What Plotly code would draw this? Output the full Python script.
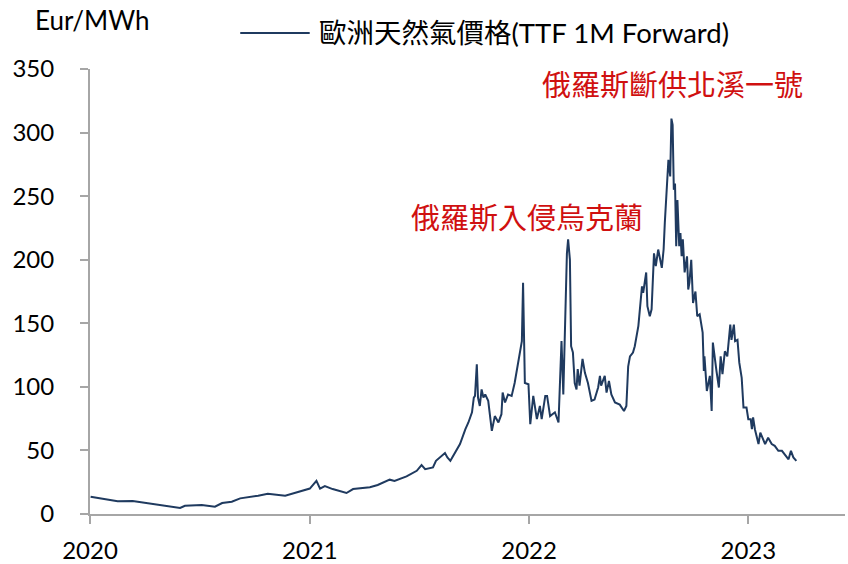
import plotly.graph_objects as go

# ---- data ----
dates = [
    "2020-01-02", "2020-01-26", "2020-02-16", "2020-03-12", "2020-03-29", "2020-04-30",
    "2020-05-30", "2020-06-07", "2020-07-05", "2020-07-27", "2020-08-08", "2020-08-24",
    "2020-09-07", "2020-10-07", "2020-10-23", "2020-11-21", "2020-12-12",
    "2021-01-01", "2021-01-12", "2021-01-18", "2021-01-26", "2021-02-08", "2021-03-03",
    "2021-03-14", "2021-04-11", "2021-04-24", "2021-05-14", "2021-05-22", "2021-06-11",
    "2021-06-28", "2021-07-06", "2021-07-12", "2021-07-25", "2021-07-30", "2021-08-14",
    "2021-08-18", "2021-08-23", "2021-09-03", "2021-09-08", "2021-09-17", "2021-09-22",
    "2021-09-28", "2021-10-01", "2021-10-03", "2021-10-06", "2021-10-08", "2021-10-11",
    "2021-10-14", "2021-10-17", "2021-10-20", "2021-10-25", "2021-10-31", "2021-11-05",
    "2021-11-11", "2021-11-16", "2021-11-18", "2021-11-22", "2021-11-27", "2021-12-03",
    "2021-12-08", "2021-12-14", "2021-12-17", "2021-12-20", "2021-12-22", "2021-12-25",
    "2021-12-31",
    "2022-01-03", "2022-01-08", "2022-01-14", "2022-01-19", "2022-01-22", "2022-01-28",
    "2022-01-31", "2022-02-05", "2022-02-13", "2022-02-19", "2022-02-24", "2022-02-27",
    "2022-03-02", "2022-03-05", "2022-03-07", "2022-03-10", "2022-03-12", "2022-03-15",
    "2022-03-18", "2022-03-21", "2022-03-23", "2022-03-26", "2022-03-31", "2022-04-04",
    "2022-04-09", "2022-04-15", "2022-04-20", "2022-04-26", "2022-04-29", "2022-05-01",
    "2022-05-07", "2022-05-10", "2022-05-14", "2022-05-18", "2022-05-24", "2022-06-01",
    "2022-06-08", "2022-06-12", "2022-06-15", "2022-06-18", "2022-06-23", "2022-06-26",
    "2022-07-02", "2022-07-08", "2022-07-10", "2022-07-15", "2022-07-17", "2022-07-21",
    "2022-07-24", "2022-07-28", "2022-07-31", "2022-08-04", "2022-08-10", "2022-08-13",
    "2022-08-15", "2022-08-18", "2022-08-21", "2022-08-24", "2022-08-26", "2022-08-28",
    "2022-08-30", "2022-09-01", "2022-09-03", "2022-09-05", "2022-09-08", "2022-09-10",
    "2022-09-12", "2022-09-14", "2022-09-17", "2022-09-21", "2022-09-23", "2022-09-25",
    "2022-09-28", "2022-10-01", "2022-10-05", "2022-10-08", "2022-10-12", "2022-10-17",
    "2022-10-19", "2022-10-20", "2022-10-24", "2022-10-29", "2022-11-01", "2022-11-03",
    "2022-11-06", "2022-11-09", "2022-11-13", "2022-11-16", "2022-11-19", "2022-11-23",
    "2022-11-27", "2022-12-02", "2022-12-04", "2022-12-08", "2022-12-10", "2022-12-14",
    "2022-12-17", "2022-12-21", "2022-12-24", "2022-12-29",
    "2023-01-01", "2023-01-05", "2023-01-07", "2023-01-09", "2023-01-12", "2023-01-18",
    "2023-01-21", "2023-01-25", "2023-01-29", "2023-02-03", "2023-02-09", "2023-02-14",
    "2023-02-20", "2023-02-26", "2023-03-03", "2023-03-09", "2023-03-13", "2023-03-17",
    "2023-03-22",
]
ttf_price = [
    13.6, 11.8, 10.0, 10.2, 8.9, 7.0,
    4.7, 6.5, 7.0, 5.7, 8.6, 9.7,
    12.3, 14.4, 16.0, 14.4, 17.0,
    20.0, 26.0, 20.0, 22.0, 19.6, 16.5,
    19.6, 21.0, 22.8, 27.0, 26.0, 29.6,
    34.0, 38.5, 35.3, 36.6, 41.8, 47.9,
    44.5, 41.8, 51.0, 55.0, 66.7, 72.0,
    80.0, 91.6, 92.9, 117.7, 91.6, 85.0,
    98.0, 91.6, 94.0, 89.0, 65.4, 77.0,
    72.0, 78.5, 95.5, 87.7, 94.0, 92.9,
    103.0, 119.0, 129.5, 136.0, 181.9, 103.0,
    102.0,
    70.6, 92.9, 74.6, 85.0, 74.6, 92.9,
    92.9, 77.0, 80.0, 72.0, 136.0, 94.0,
    148.0, 205.0, 216.0, 200.0, 132.0, 127.0,
    103.0, 98.0, 114.0, 101.0, 122.0, 111.0,
    103.0, 89.0, 90.0, 99.5, 108.6, 101.0,
    108.6, 95.5, 104.6, 94.0, 87.7, 86.0,
    81.0, 85.0, 116.0, 124.0, 127.0, 132.0,
    148.0, 179.0, 174.0, 190.0, 163.5, 155.6,
    161.0, 205.0, 195.0, 208.0, 193.6, 208.0,
    229.0, 257.7, 278.6, 265.5, 311.0, 306.0,
    255.0, 260.0, 210.6, 247.0, 210.6, 221.0,
    202.7, 216.0, 190.0, 202.7, 176.6, 182.0,
    200.0, 166.0, 175.0, 155.6, 157.0, 142.6,
    112.5, 124.0, 96.8, 108.6, 81.0, 134.8,
    121.7, 112.5, 99.5, 124.0, 110.0, 128.0,
    124.0, 149.0, 137.0, 149.0, 136.0, 137.0,
    119.0, 107.0, 83.7, 83.7,
    74.6, 74.6, 66.7, 76.0, 66.7, 55.0,
    64.0, 58.9, 55.0, 60.0, 55.0, 53.6,
    49.7, 49.7, 47.0, 43.0, 49.7, 44.5,
    41.8,
]
series_name = "歐洲天然氣價格(TTF 1M Forward)"
unit_label = "Eur/MWh"
year_ticks = ["2020-01-01", "2021-01-01", "2022-01-01", "2023-01-01"]
year_labels = ["2020", "2021", "2022", "2023"]
y_ticks = [0, 50, 100, 150, 200, 250, 300, 350]
event_labels = ["俄羅斯入侵烏克蘭", "俄羅斯斷供北溪一號"]
event_dates = ["2021-12-28", "2022-08-27"]
event_y = [233, 338]

LINE_COLOR = "#1F3A5F"
AXIS_COLOR = "#A6A6A6"
RED = "#D01010"
FONT = "Lato, 'Noto Sans CJK TC', sans-serif"

fig = go.Figure()
fig.add_trace(go.Scatter(
    x=dates, y=ttf_price, mode="lines", name=series_name,
    line=dict(color=LINE_COLOR, width=2), showlegend=False,
))

fig.update_layout(
    width=848, height=564,
    margin=dict(l=90, r=3, t=69, b=50),
    paper_bgcolor="white", plot_bgcolor="white",
    font=dict(family=FONT, size=24, color="#000000"),
    xaxis=dict(
        range=["2020-01-01", "2023-06-11"],
        tickvals=year_ticks, ticktext=year_labels,
        showline=True, linecolor=AXIS_COLOR, linewidth=2,
        ticks="outside", ticklen=8, tickwidth=2, tickcolor=AXIS_COLOR,
        showgrid=False, zeroline=False, automargin=False,
        ticklabelstandoff=6,
        tickfont=dict(size=24, family=FONT),
    ),
    yaxis=dict(
        range=[0, 350], tickvals=y_ticks,
        showline=True, linecolor=AXIS_COLOR, linewidth=2,
        ticks="outside", ticklen=8, tickwidth=2, tickcolor=AXIS_COLOR,
        showgrid=False, zeroline=False, automargin=False,
        ticklabelstandoff=21,
        tickfont=dict(size=24, family=FONT),
    ),
)

# unit label
fig.add_annotation(
    text=unit_label, xref="paper", yref="paper",
    x=-0.0755, y=1.11, xanchor="left", yanchor="middle",
    showarrow=False, font=dict(size=26, family=FONT, color="#000000"),
)
# manual legend: line sample + text
fig.add_shape(
    type="line", xref="paper", yref="paper",
    x0=0.199, x1=0.291, y0=1.081, y1=1.081,
    line=dict(color=LINE_COLOR, width=2),
)
fig.add_annotation(
    text=series_name, xref="paper", yref="paper",
    x=0.300, y=1.081, xanchor="left", yanchor="middle",
    showarrow=False, font=dict(size=27.5, family=FONT, color="#000000"),
)
# event annotations
for lbl, d, yv in zip(event_labels, event_dates, event_y):
    fig.add_annotation(
        text=lbl, x=d, y=yv, xref="x", yref="y",
        xanchor="center", yanchor="middle", showarrow=False,
        font=dict(size=29, family=FONT, color=RED),
    )

fig.write_html(
    "out.html",
    config={"displayModeBar": False},
    post_script="document.body.style.margin='0';document.body.style.overflow='hidden';",
)
